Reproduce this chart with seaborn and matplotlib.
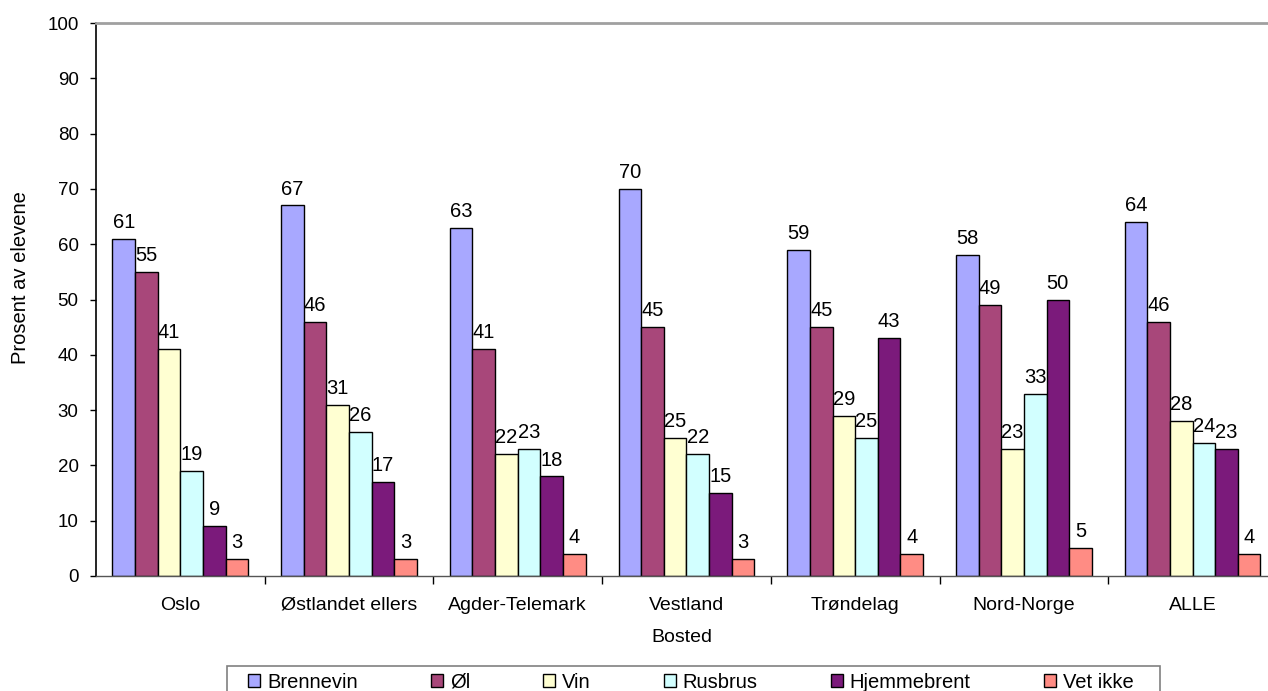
import matplotlib
matplotlib.use("Agg")
import matplotlib.pyplot as plt
import seaborn as sns
import pandas as pd
from matplotlib.patches import Patch, Rectangle

categories = ["Oslo", "Østlandet ellers", "Agder-Telemark", "Vestland", "Trøndelag", "Nord-Norge", "ALLE"]
series = ["Brennevin", "Øl", "Vin", "Rusbrus", "Hjemmebrent", "Vet ikke"]
brennevin = [61, 67, 63, 70, 59, 58, 64]
ol = [55, 46, 41, 45, 45, 49, 46]
vin = [41, 31, 22, 25, 29, 23, 28]
rusbrus = [19, 26, 23, 22, 25, 33, 24]
hjemmebrent = [9, 17, 18, 15, 43, 50, 23]
vet_ikke = [3, 3, 4, 3, 4, 5, 4]
colors = ["#A8A8FF", "#A8477A", "#FFFFD2", "#D2FFFF", "#7B1A7B", "#FF8C84"]

values = [brennevin, ol, vin, rusbrus, hjemmebrent, vet_ikke]
rows = []
for s, vals in zip(series, values):
    for c, v in zip(categories, vals):
        rows.append({"Bosted": c, "Type": s, "Prosent": v})
df = pd.DataFrame(rows)

sns.set_style("white")
plt.rcParams["font.family"] = ["Liberation Sans", "DejaVu Sans"]
plt.rcParams["text.color"] = "black"
plt.rcParams["axes.labelcolor"] = "black"
plt.rcParams["xtick.color"] = "black"
plt.rcParams["ytick.color"] = "black"

W, H = 1268, 691
fig = plt.figure(figsize=(W / 100, H / 100), dpi=100)
ax = fig.add_axes([96 / W, 1 - 576 / H, (W - 96) / W, (576 - 23) / H])

sns.barplot(data=df, x="Bosted", y="Prosent", hue="Type", order=categories,
            hue_order=series, palette=colors, width=0.805, gap=0,
            edgecolor="black", linewidth=1.0, saturation=1, ax=ax, legend=False)

for cont in ax.containers:
    ax.bar_label(cont, fmt="%d", padding=5, fontsize=14.5)

ax.set_ylim(0, 100)
ax.set_xlim(-0.5, 6.447)
ax.set_yticks(range(0, 101, 10))
ax.tick_params(axis="y", labelsize=13.5, length=4.5, width=1, left=True, pad=8)
ax.tick_params(axis="x", labelsize=14, length=0, pad=15)
ax.set_xticks([i - 0.5 for i in range(1, 7)], minor=True)
ax.tick_params(axis="x", which="minor", length=6, width=1, bottom=True, direction="out")
ax.set_xlabel("Bosted", fontsize=14, labelpad=11)
ax.set_ylabel("Prosent av elevene", fontsize=14.5)
ax.yaxis.set_label_coords(-0.056, 0.539)

ax.spines["left"].set_color("black")
ax.spines["left"].set_linewidth(1.2)
ax.spines["bottom"].set_color("#555555")
ax.spines["bottom"].set_linewidth(1.0)
ax.spines["top"].set_color("#A0A0A0")
ax.spines["top"].set_linewidth(2)
ax.spines["right"].set_visible(False)

# legend frame (bottom edge falls below the image, as in the reference)
fig.patches.append(Rectangle((227 / W, 1 - 705 / H), (1160 - 227) / W, (705 - 666) / H,
                             transform=fig.transFigure, facecolor="white",
                             edgecolor="#808080", linewidth=1.2, zorder=0))

handles = [Patch(facecolor=c, edgecolor="black", linewidth=1.0) for c in colors]
leg = fig.legend(handles, series, ncol=6, loc="center left",
                 bbox_to_anchor=(248 / W, 1 - 682 / H),
                 fontsize=14.5, frameon=False,
                 handlelength=0.6, handleheight=0.6, handletextpad=0.35,
                 columnspacing=3.62, borderpad=0, borderaxespad=0)

fig.savefig("out.png", dpi=100)
